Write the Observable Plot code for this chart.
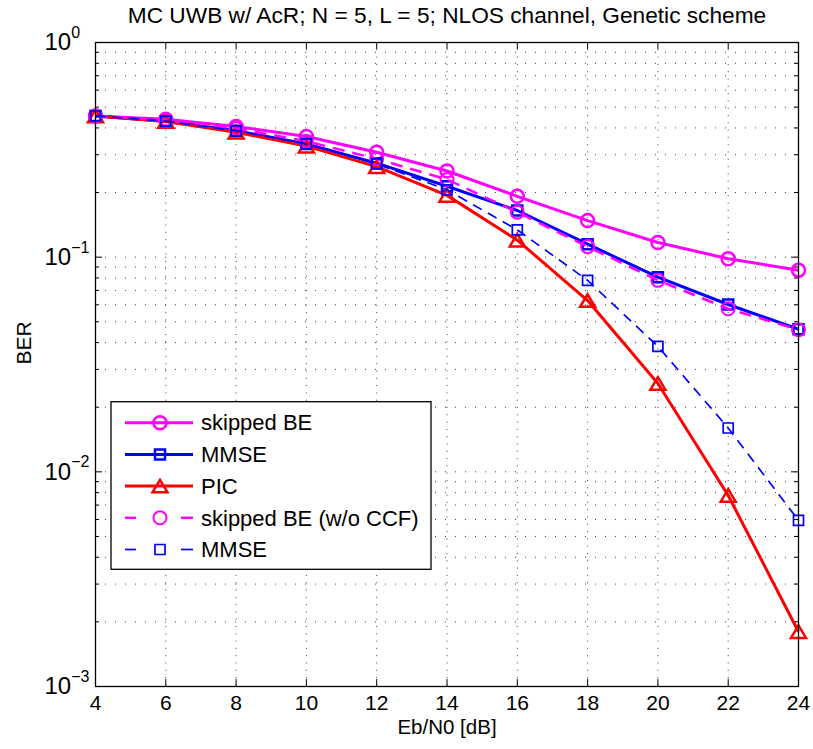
<!DOCTYPE html>
<html><head><meta charset="utf-8">
<script src="https://cdn.jsdelivr.net/npm/d3@7"></script>
<script src="https://cdn.jsdelivr.net/npm/@observablehq/plot@0.6"></script>
<style>body{margin:0;background:#fff;} svg{font-family:"Liberation Sans",Arial,Helvetica,sans-serif;}</style>
</head><body><div id="chart"></div>
<script>
// ---- data ----
const ebn0 = [4, 6, 8, 10, 12, 14, 16, 18, 20, 22, 24];
const skippedBE      = [0.455, 0.439, 0.406, 0.365, 0.308, 0.252, 0.192, 0.148, 0.117, 0.0984, 0.087];
const mmse           = [0.455, 0.430, 0.388, 0.337, 0.274, 0.214, 0.165, 0.115, 0.0807, 0.0602, 0.0462];
const pic            = [0.455, 0.428, 0.382, 0.329, 0.264, 0.194, 0.120, 0.0628, 0.0258, 0.00776, 0.00180];
const skippedNoCCF   = [0.455, 0.436, 0.398, 0.347, 0.287, 0.230, 0.162, 0.112, 0.078, 0.0575, 0.0459];
const mmseDashed     = [0.455, 0.430, 0.388, 0.337, 0.272, 0.206, 0.134, 0.078, 0.0384, 0.0160, 0.00594];
const seriesNames = ["skipped BE", "MMSE", "PIC", "skipped BE (w/o CCF)", "MMSE"];
const xTicks = [4, 6, 8, 10, 12, 14, 16, 18, 20, 22, 24];
const yMajor = [1e-3, 1e-2, 1e-1, 1];
const yMinor = [2e-3,3e-3,4e-3,5e-3,6e-3,7e-3,8e-3,9e-3, 2e-2,3e-2,4e-2,5e-2,6e-2,7e-2,8e-2,9e-2, 2e-1,3e-1,4e-1,5e-1,6e-1,7e-1,8e-1,9e-1];
const yLabels = ["10^-3", "10^-2", "10^-1", "10^0"];
const title = "MC UWB w/ AcR; N = 5, L = 5; NLOS channel, Genetic scheme";
const xLabel = "Eb/N0 [dB]";
const yLabel = "BER";

// ---- layout ----
const W = 813, H = 749, mL = 95, mR = 15, mT = 42, mB = 63;
const iW = W - mL - mR, iH = H - mT - mB;

// ---- symbols ----
const sqSym = {draw(ctx, size){ const r = Math.sqrt(size/Math.PI); ctx.moveTo(-r,-r); ctx.lineTo(r,-r); ctx.lineTo(r,r); ctx.lineTo(-r,r); ctx.closePath(); }};
const triSym = {draw(ctx, size){ const r = Math.sqrt(size/Math.PI); ctx.moveTo(0,-r); ctx.lineTo(1.2*r, r); ctx.lineTo(-1.2*r, r); ctx.closePath(); }};
const circSym = {draw(ctx, size){ const r = Math.sqrt(size/Math.PI); ctx.moveTo(r,0); ctx.arc(0,0,r,0,2*Math.PI); }};

const styles = [
  {vals: skippedBE,    color: "#ff00ff", dash: null,   lw: 3,   sym: circSym, r: 6.5, sw: 2.5},
  {vals: mmse,         color: "#0000ff", dash: null,   lw: 3,   sym: sqSym,   r: 5,   sw: 2.5},
  {vals: pic,          color: "#ff0000", dash: null,   lw: 3,   sym: triSym,  r: 6.25,sw: 2.5},
  {vals: skippedNoCCF, color: "#ff00ff", dash: "12,8", lw: 2.5, sym: circSym, r: 6.5, sw: 2},
  {vals: mmseDashed,   color: "#0000ff", dash: "10,7", lw: 1.7, sym: sqSym,   r: 5,   sw: 1.7}
];

const seriesMarks = styles.flatMap((s, k) => {
  const rows = ebn0.map((x, i) => ({x, y: s.vals[i], k}));
  return [
    Plot.line(rows, {x: "x", y: "y", stroke: s.color, strokeWidth: s.lw, strokeDasharray: s.dash, strokeLinecap: "butt", strokeLinejoin: "round"}),
    Plot.dot(rows, {x: "x", y: "y", stroke: s.color, fill: "none", strokeWidth: s.sw, symbol: s.sym, r: s.r})
  ];
});

const gridStyle = {stroke: "#000", strokeOpacity: 0.75, strokeWidth: 1};

const plot = Plot.plot({
  width: W, height: H,
  marginLeft: mL, marginRight: mR, marginTop: mT, marginBottom: mB,
  style: {background: "#fff", fontFamily: "Liberation Sans, Arial, Helvetica, sans-serif", fontSize: "21px", color: "#000"},
  x: {domain: [4, 24], label: null, axis: null},
  y: {type: "log", domain: [1e-3, 1], label: null, axis: null},
  marks: [
    Plot.gridY(yMinor.concat(yMajor), {...gridStyle, strokeDasharray: "1,9"}),
    Plot.gridX(xTicks, {...gridStyle, strokeDasharray: "1,6.3"}),
    Plot.tickY(yMajor, {y: d => d, stroke: "#000", insetRight: iW - 7}),
    Plot.tickY(yMajor, {y: d => d, stroke: "#000", insetLeft: iW - 7}),
    Plot.tickY(yMinor, {y: d => d, stroke: "#000", insetRight: iW - 4}),
    Plot.tickY(yMinor, {y: d => d, stroke: "#000", insetLeft: iW - 4}),
    Plot.tickX(xTicks, {x: d => d, stroke: "#000", insetTop: iH - 7}),
    Plot.tickX(xTicks, {x: d => d, stroke: "#000", insetBottom: iH - 7}),
    ...seriesMarks,
    Plot.frame({stroke: "#000", strokeWidth: 1.3}),
    Plot.text(yMajor, {y: d => d, text: (d, i) => yLabels[i], frameAnchor: "left", textAnchor: "start", dx: 44 - mL, fontSize: 24, lineAnchor: "middle", fill: "#000"}),
    Plot.text(xTicks, {x: d => d, text: d => String(d), frameAnchor: "bottom", lineAnchor: "top", dy: 9, fontSize: 21, fill: "#000"}),
    Plot.text([xLabel], {text: d => d, frameAnchor: "bottom", lineAnchor: "middle", dy: 41, fontSize: 20.5, fill: "#000"}),
    Plot.text([yLabel], {text: d => d, frameAnchor: "left", lineAnchor: "middle", rotate: -90, dx: 24 - mL, dy: 0, fontSize: 21, fill: "#000"}),
    Plot.text([title], {text: d => d, frameAnchor: "top", lineAnchor: "middle", dy: 15 - mT, fontSize: 22.7, fill: "#000"})
  ]
});

document.getElementById("chart").appendChild(plot);
const svg = d3.select(plot);

// superscripts for log tick labels
svg.selectAll("text").each(function(){
  const t = d3.select(this);
  const s = t.text();
  if (s.startsWith("10^")) {
    const e = s.slice(3).replace("-", "\u2212");
    t.text("10");
    t.append("tspan").attr("dy", "-12.3").attr("font-size", 16).text(e);
  }
});

// legend
const lg = svg.append("g").attr("text-anchor", "start");
const lx0 = 111, ly0 = 401.7, lx1 = 431, ly1 = 569.3;
lg.append("rect").attr("x", lx0).attr("y", ly0).attr("width", lx1 - lx0).attr("height", ly1 - ly0)
  .attr("fill", "#fff").attr("stroke", "#000").attr("stroke-width", 1.3);
styles.forEach((s, k) => {
  const cy = 422.7 + k * 31.7;
  if (s.dash) {
    [[125, 136], [181, 193]].forEach(([a, b]) =>
      lg.append("line").attr("x1", a).attr("x2", b).attr("y1", cy).attr("y2", cy)
        .attr("stroke", s.color).attr("stroke-width", s.lw));
  } else {
    lg.append("line").attr("x1", 125).attr("x2", 193).attr("y1", cy).attr("y2", cy)
      .attr("stroke", s.color).attr("stroke-width", s.lw);
  }
  const p = d3.path();
  s.sym.draw(p, Math.PI * s.r * s.r);
  lg.append("path").attr("d", p.toString()).attr("transform", `translate(160,${cy})`)
    .attr("fill", "none").attr("stroke", s.color).attr("stroke-width", s.sw);
  lg.append("text").attr("x", 201).attr("y", cy).attr("dy", "0.35em").attr("font-size", 22)
    .attr("text-anchor", "start").attr("fill", "#000").text(seriesNames[k]);
});
</script>
</body></html>
